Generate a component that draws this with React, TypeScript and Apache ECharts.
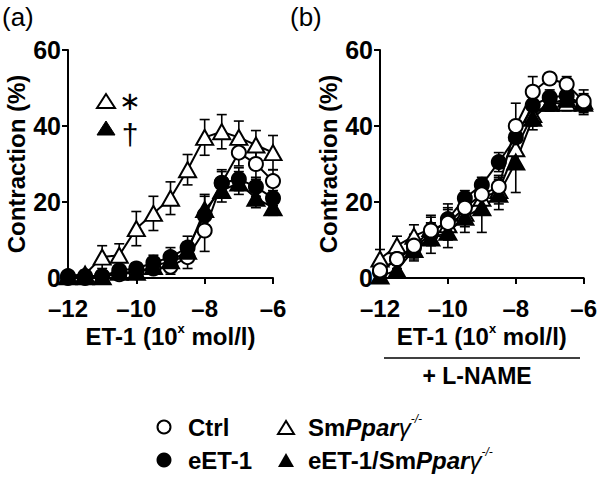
import React, { useEffect, useRef } from "react";
import * as echarts from "echarts";

const FONT = "'Liberation Sans', Arial, Helvetica, sans-serif";

// ET-1 dose, log10 mol/l
const doses = [-12, -11.5, -11, -10.5, -10, -9.5, -9, -8.5, -8, -7.5, -7, -6.5, -6];
const xTicks = [-12, -10, -8, -6];
const yTicks = [0, 20, 40, 60];

const seriesNames = ["Ctrl", "eET-1", "SmPparγ-/-", "eET-1/SmPparγ-/-"];

// Panel (a)
const ctrlA = [0, 0, 0.5, 1, 1.5, 2.5, 3, 5.5, 12.5, 25, 33, 30, 25.5];
const ctrlAErr = [0.3, 0.3, 0.5, 0.8, 1, 1.5, 2, 3, 5.5, 3, 3.5, 4, 3];
const eetA = [0.5, 0.5, 0.5, 2, 2.5, 4, 5.5, 8, 16.5, 25, 26, 24, 21];
const eetAErr = [0.5, 0.5, 0.5, 1, 1.5, 2, 2.5, 3, 5, 3.5, 3, 2.5, 2];
const smA = [0.5, 1, 5.5, 6, 13, 17, 21, 28.5, 37, 38.5, 37, 35, 33];
const smAErr = [0.5, 1, 3, 3, 4.5, 4.5, 4.3, 4, 4.7, 4.5, 4.3, 3.8, 4.5];
const eetSmA = [0.3, 0.3, 0.3, 1.5, 1.5, 3, 4.5, 7, 18, 23, 25, 21, 18.5];
const eetSmAErr = [0.3, 0.3, 0.5, 1, 1, 1.5, 2, 2.5, 4, 3, 3, 2.5, 2];

// Panel (b) + L-NAME
const ctrlB = [2, 5, 8.5, 12.5, 14.5, 18.5, 22, 24, 40, 49, 52.5, 51, 46.5];
const ctrlBErr = [2, 3, 3, 3.5, 4, 3, 3, 3, 6, 4, 1.5, 2, 3];
const eetB = [1.5, 5, 8, 11.5, 15.5, 21, 24.5, 30.5, 37, 45.5, 47.5, 48, 45.5];
const eetBErr = [1.5, 2.5, 3, 3, 4, 2, 2, 2.5, 3, 2, 2, 2, 2.5];
const smB = [5, 8.5, 11, 13, 14, 17, 21, 23, 34, 43, 46, 46, 46.5];
const smBErr = [2.5, 2.5, 3, 3.5, 4, 3.5, 3.5, 3.5, 4, 3, 2, 2, 2];
const eetSmB = [0.5, 2, 7.5, 10.5, 12, 16, 18.5, 22, 30.5, 42, 46, 47, 46];
const eetSmBErr = [0.5, 1.5, 3, 4, 4, 4, 6.5, 4, 8, 3, 2, 2, 2];

type Spec = { name: string; vals: number[]; errs: number[]; symbol: string; filled: boolean };

const panelA: Spec[] = [
  { name: seriesNames[2], vals: smA, errs: smAErr, symbol: "triangle", filled: false },
  { name: seriesNames[0], vals: ctrlA, errs: ctrlAErr, symbol: "circle", filled: false },
  { name: seriesNames[1], vals: eetA, errs: eetAErr, symbol: "circle", filled: true },
  { name: seriesNames[3], vals: eetSmA, errs: eetSmAErr, symbol: "triangle", filled: true },
];
const panelB: Spec[] = [
  { name: seriesNames[2], vals: smB, errs: smBErr, symbol: "triangle", filled: false },
  { name: seriesNames[3], vals: eetSmB, errs: eetSmBErr, symbol: "triangle", filled: true },
  { name: seriesNames[1], vals: eetB, errs: eetBErr, symbol: "circle", filled: true },
  { name: seriesNames[0], vals: ctrlB, errs: ctrlBErr, symbol: "circle", filled: false },
];

function errorSeries(s: Spec, idx: number) {
  return {
    type: "custom",
    name: s.name + " SEM",
    xAxisIndex: idx,
    yAxisIndex: idx,
    z: 1,
    clip: false,
    encode: { x: 0, y: 1 },
    data: doses.map((d, i) => [d, s.vals[i], s.errs[i]]),
    renderItem: (_p: any, api: any) => {
      const x = api.value(0);
      const y = api.value(1);
      const e = api.value(2);
      const top = api.coord([x, y + e]);
      const bot = api.coord([x, y - e]);
      const hw = 5;
      const st = { stroke: "#000", lineWidth: 1.6 };
      return {
        type: "group",
        children: [
          { type: "line", shape: { x1: top[0], y1: top[1], x2: bot[0], y2: bot[1] }, style: st },
          { type: "line", shape: { x1: top[0] - hw, y1: top[1], x2: top[0] + hw, y2: top[1] }, style: st },
          { type: "line", shape: { x1: bot[0] - hw, y1: bot[1], x2: bot[0] + hw, y2: bot[1] }, style: st },
        ],
      };
    },
  };
}

function lineSeries(s: Spec, idx: number) {
  return {
    type: "line",
    name: s.name,
    xAxisIndex: idx,
    yAxisIndex: idx,
    z: 3,
    data: doses.map((d, i) => [d, s.vals[i]]),
    symbol: s.symbol,
    symbolSize: s.symbol === "triangle" ? [17, 15] : 14,
    showAllSymbol: true,
    lineStyle: { color: "#000", width: 2 },
    itemStyle: { color: s.filled ? "#000" : "#fff", borderColor: "#000", borderWidth: 2 },
  };
}

const tickFmt = (v: number) => (v < 0 ? "\u2013" + Math.abs(v) : String(v));

function xAxis(idx: number) {
  return {
    gridIndex: idx,
    type: "value",
    min: -12,
    max: -6,
    interval: 2,
    axisLine: { show: true, onZero: false, lineStyle: { color: "#000", width: 2 } },
    axisTick: { show: true, length: 6, lineStyle: { color: "#000", width: 2 } },
    axisLabel: {
      formatter: tickFmt,
      fontSize: 24,
      lineHeight: 24,
      fontWeight: "bold",
      fontFamily: FONT,
      color: "#000",
      margin: 18,
      customValues: xTicks,
    },
    splitLine: { show: false },
    name: "{a|ET-1 (10}{s|x}{a| mol/l)}",
    nameLocation: "middle",
    nameGap: 44,
    nameTextStyle: {
      rich: {
        a: { fontSize: 24, fontWeight: "bold", fontFamily: FONT, color: "#000", lineHeight: 28 },
        s: { fontSize: 13, fontWeight: "bold", fontFamily: FONT, color: "#000", lineHeight: 16, verticalAlign: "top" },
      },
    },
  };
}

function yAxis(idx: number) {
  return {
    gridIndex: idx,
    type: "value",
    min: 0,
    max: 60,
    interval: 20,
    axisLine: { show: true, lineStyle: { color: "#000", width: 2 } },
    axisTick: { show: true, length: 6, lineStyle: { color: "#000", width: 2 } },
    axisLabel: {
      fontSize: 25,
      fontWeight: "bold",
      fontFamily: FONT,
      color: "#000",
      margin: 7,
      customValues: yTicks,
    },
    splitLine: { show: false },
    name: "Contraction (%)",
    nameLocation: "middle",
    nameGap: 40,
    nameTextStyle: { fontSize: 24, fontWeight: "bold", fontFamily: FONT, color: "#000" },
  };
}

const boldText = (size: number) => `bold ${size}px ${FONT}`;

function richLegend(text: string, x: number, y: number) {
  return {
    type: "text",
    x,
    y,
    style: {
      text,
      verticalAlign: "middle",
      rich: {
        b: { fontSize: 24, fontWeight: "bold", fontFamily: FONT, fill: "#000", lineHeight: 28 },
        i: { fontSize: 24, fontWeight: "bold", fontStyle: "italic", fontFamily: FONT, fill: "#000", lineHeight: 28 },
        g: { fontSize: 24, fontWeight: "normal", fontStyle: "italic", fontFamily: FONT, fill: "#000", lineHeight: 28 },
        s: { fontSize: 12, fontWeight: "normal", fontStyle: "italic", fontFamily: FONT, fill: "#000", lineHeight: 14, verticalAlign: "top" },
      },
    },
  };
}

export default function App() {
  const ref = useRef<HTMLDivElement>(null);
  useEffect(() => {
    if (!ref.current) return;
    const chart = echarts.init(ref.current, undefined, { renderer: "svg" });
    const option: any = {
      animation: false,
      backgroundColor: "#fff",
      grid: [
        { left: 68, top: 50, width: 205, height: 228 },
        { left: 380, top: 50, width: 204, height: 228 },
      ],
      xAxis: [xAxis(0), xAxis(1)],
      yAxis: [yAxis(0), yAxis(1)],
      series: [
        ...panelA.map((s) => errorSeries(s, 0)),
        ...panelA.map((s) => lineSeries(s, 0)),
        ...panelB.map((s) => errorSeries(s, 1)),
        ...panelB.map((s) => lineSeries(s, 1)),
      ],
      graphic: [
        { type: "text", x: 2, y: 17, style: { text: "(a)", font: `26px ${FONT}`, fill: "#000", verticalAlign: "middle" } },
        { type: "text", x: 290, y: 17, style: { text: "(b)", font: `26px ${FONT}`, fill: "#000", verticalAlign: "middle" } },
        // significance marks in (a)
        { type: "polygon", shape: { points: [[106, 94], [97, 108], [115, 108]] }, style: { fill: "#fff", stroke: "#000", lineWidth: 2 } },
        { type: "text", x: 130, y: 101, style: { text: "\u2217", font: `26px 'DejaVu Sans', ${FONT}`, fill: "#000", align: "center", verticalAlign: "middle" } },
        { type: "polygon", shape: { points: [[106, 121], [97, 135], [115, 135]] }, style: { fill: "#000", stroke: "#000", lineWidth: 1 } },
        { type: "text", x: 130, y: 134, style: { text: "\u2020", font: `30px ${FONT}`, fill: "#000", align: "center", verticalAlign: "middle" } },
        // + L-NAME in (b)
        { type: "line", shape: { x1: 384, y1: 358, x2: 580, y2: 358 }, style: { stroke: "#000", lineWidth: 1.6 } },
        { type: "text", x: 477, y: 376, style: { text: "+ L-NAME", font: boldText(23), fill: "#000", align: "center", verticalAlign: "middle" } },
        // legend
        { type: "circle", shape: { cx: 164, cy: 427, r: 6.5 }, style: { fill: "#fff", stroke: "#000", lineWidth: 2 } },
        { type: "text", x: 188, y: 427, style: { text: seriesNames[0], font: boldText(24), fill: "#000", verticalAlign: "middle" } },
        { type: "polygon", shape: { points: [[286, 421], [278, 434], [294, 434]] }, style: { fill: "#fff", stroke: "#000", lineWidth: 2 } },
        richLegend("{b|Sm}{i|Ppar}{g|γ}{s|-/-}", 308, 427),
        { type: "circle", shape: { cx: 164, cy: 460, r: 7.5 }, style: { fill: "#000" } },
        { type: "text", x: 188, y: 460, style: { text: seriesNames[1], font: boldText(24), fill: "#000", verticalAlign: "middle" } },
        { type: "polygon", shape: { points: [[286, 453], [278, 467], [294, 467]] }, style: { fill: "#000" } },
        richLegend("{b|eET-1/Sm}{i|Ppar}{g|γ}{s|-/-}", 308, 460),
      ],
    };
    chart.setOption(option);
    return () => chart.dispose();
  }, []);
  return (
    <div
      ref={ref}
      style={{ position: "fixed", left: 0, top: 0, width: 600, height: 480, background: "#fff" }}
    />
  );
}
